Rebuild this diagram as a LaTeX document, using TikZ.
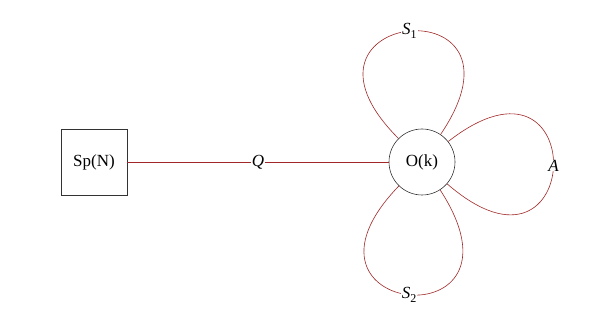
\documentclass[tikz,border=0pt]{standalone}
\usepackage{fontspec}
\setmainfont{Liberation Serif}
\definecolor{linkred}{RGB}{160,40,40}
\newcommand{\lbsub}[2]{\textit{#1}\raisebox{-0.45ex}{\fontsize{12}{12}\selectfont #2}}
\begin{document}
\begin{tikzpicture}[x=1pt,y=1pt,
  every node/.style={font=\fontsize{17}{20}\selectfont},
  grp/.style={draw=black!80, line width=0.6pt, minimum size=66pt, inner sep=0pt},
  link/.style={draw=linkred, line width=0.6pt},
  lab/.style={fill=white, inner sep=1pt}]
\useasboundingbox (0,0) rectangle (615,326);
\node[grp, rectangle] (sp) at (94,164) {Sp(N)};
\node[grp, circle] (ok) at (422,164) {O(k)};
\draw[link] (sp) -- node[lab] (q) {\textit{Q}} (ok);
\draw[link] (ok.135) .. controls +(135:183) and +(56:183) .. node[lab] (s1) {\lbsub{S}{1}} (ok.56);
\draw[link] (ok.38) .. controls +(38:183) and +(-41:183) .. node[lab, inner sep=0pt] (a) {\textit{A}} (ok.-41);
\draw[link] (ok.-134) .. controls +(-134:183) and +(-57:183) .. node[lab] (s2) {\lbsub{S}{2}} (ok.-57);
\end{tikzpicture}
\end{document}
